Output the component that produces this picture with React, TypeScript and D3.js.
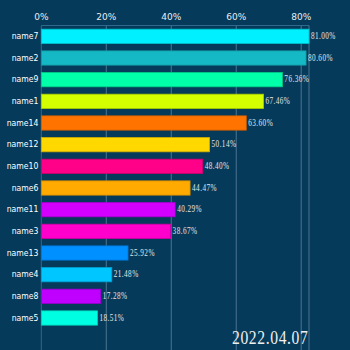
import React from "react";
import * as d3 from "d3";

const categories = ["name7","name2","name9","name1","name14","name12","name10","name6","name11","name3","name13","name4","name8","name5"];
// bar lengths as drawn (mid-animation) in percent
const barValues = [82.4,81.5,74.2,68.4,63.1,51.8,49.7,45.8,41.2,39.8,26.7,21.7,18.3,17.3];
const valueLabels = ["81.00%","80.60%","76.36%","67.46%","63.60%","50.14%","48.40%","44.47%","40.29%","38.67%","25.92%","21.48%","17.28%","18.51%"];
const colors = ["#00f0ff","#15b8c5","#00ffa8","#d4ff00","#ff7400","#ffd800","#ff0088","#ffaa00","#d400ff","#ff00cc","#0090ff","#00c6ff","#c000ff","#00ffe2"];
const ticks = [0,20,40,60,80];
const dateLabel = "2022.04.07";

const W = 350, H = 350;
const left = 41.3, right = 309, top = 25.5, bottom = 350.5;

export default function App() {
  const x = d3.scaleLinear().domain([0, 82.4]).range([left, right]);
  const y = d3.scaleBand<string>().domain([...categories, "__empty"]).range([top, bottom]).paddingInner(0.34).paddingOuter(0.17);
  const grid = "#4d7590";
  return (
    <div>
      <style>{`body{margin:0;background:#053a5a}`}</style>
      <svg width={W} height={H} style={{ display: "block" }}>
        <rect x={0} y={0} width={W} height={H} fill="#053a5a" />
        {ticks.map(t => (
          <g key={t}>
            {t > 0 && <line x1={x(t)} x2={x(t)} y1={top} y2={H} stroke={grid} strokeWidth={1} />}
            <text x={x(t)} y={17} textAnchor="middle" dominantBaseline="middle" fill="#e8eef2" fontSize={9} fontFamily="DejaVu Sans, sans-serif">{t}%</text>
          </g>
        ))}
        <line x1={x.range()[1]} x2={x.range()[1]} y1={top} y2={H} stroke={grid} strokeWidth={1} />
        <line x1={left} x2={right} y1={top} y2={top} stroke="#2f6a8c" strokeWidth={1} />
        <line x1={left} x2={left} y1={top} y2={H} stroke="#2f6a8c" strokeWidth={1} />
        {categories.map((c, i) => {
          const yy = y(c)!;
          const bw = y.bandwidth();
          const col = colors[i];
          const cy = yy + bw / 2;
          const xe = x(barValues[i]);
          return (
            <g key={c}>
              <rect x={left} y={yy} width={xe - left} height={bw} fill={col} stroke={d3.color(col)!.darker(0.6).toString()} strokeWidth={0.8} />
              <g transform={`translate(${left - 3},${cy}) scale(0.81,1)`}>
                <text x={0} y={0} textAnchor="end" dominantBaseline="middle" fill="#ffffff" fontSize={9.5} fontFamily="DejaVu Sans, sans-serif">{c}</text>
              </g>
              <g transform={`translate(${xe + 2},${cy + 0.5}) scale(0.72,1)`}>
                <text x={0} y={0} textAnchor="start" dominantBaseline="middle" fill="#e6e6e6" fontSize={10} fontFamily="Liberation Serif, serif" letterSpacing={0.6}>{valueLabels[i]}</text>
              </g>
            </g>
          );
        })}
        <g transform="translate(308.5,344) scale(0.8,1)">
          <text x={0} y={0} textAnchor="end" fill="#f0f0f0" fontSize={19.5} fontFamily="Liberation Serif, serif" letterSpacing={0.8}>{dateLabel}</text>
        </g>
      </svg>
    </div>
  );
}
